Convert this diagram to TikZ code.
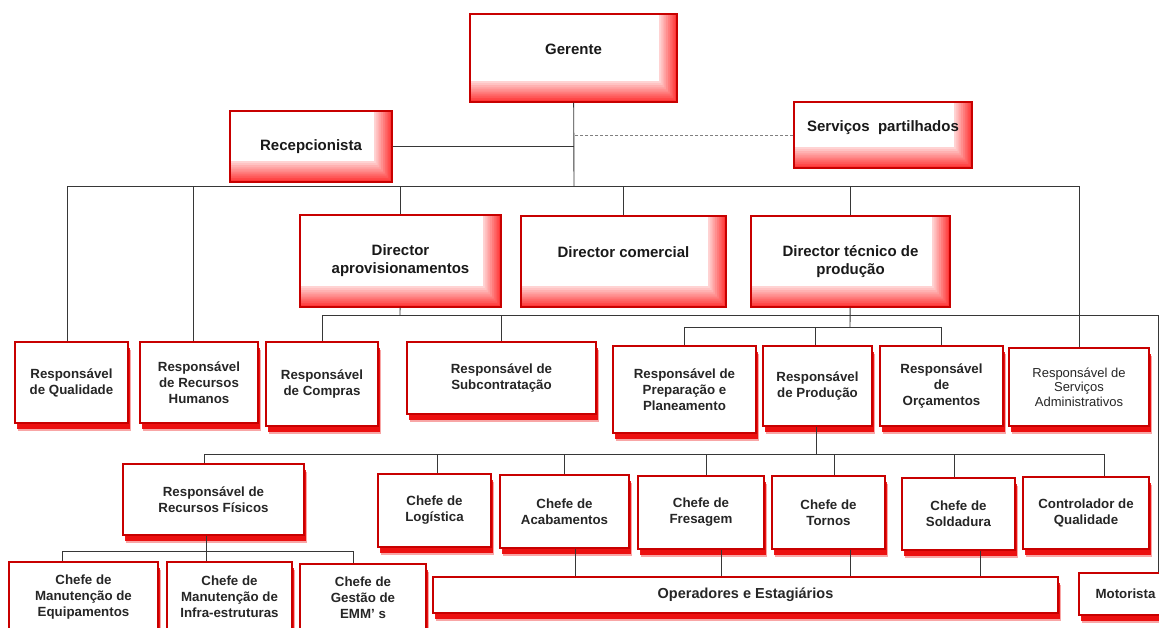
\documentclass[tikz,border=0pt]{standalone}
\usepackage{fontspec}
\setmainfont{Liberation Sans}
\usetikzlibrary{shadows}

\definecolor{boxred}{RGB}{200,0,0}
\definecolor{edgered}{RGB}{255,55,55}
\definecolor{shadowred}{RGB}{235,0,0}
\definecolor{linegray}{RGB}{55,55,55}

\newcommand{\topfont}{\fontsize{15}{18}\selectfont\bfseries}
\newcommand{\boxfont}{\fontsize{13.3}{16}\selectfont\bfseries}
\newcommand{\smallboxfont}{\fontsize{13}{14.5}\selectfont}

\begin{document}
\begin{tikzpicture}[x=1pt, y=-1pt,
    topbox/.style={draw=boxred, line width=1.4pt, fill=white, align=center,
        inner sep=0pt, font=\topfont, text=black!90,
        path picture={
            % degradê à direita e em baixo, em faixas
            \foreach \k [evaluate=\k as \pct using int(22+78*\k/9),
                         evaluate=\k as \w using 18-1.8*\k,
                         evaluate=\k as \h using 21-2.1*\k] in {0,...,9}
                \fill[edgered!\pct]
                    ([xshift=-\w pt]path picture bounding box.north east)
                    -- (path picture bounding box.north east)
                    -- (path picture bounding box.south east)
                    -- (path picture bounding box.south west)
                    -- ([yshift=\h pt]path picture bounding box.south west)
                    -- ([xshift=-\w pt, yshift=\h pt]path picture bounding box.south east) -- cycle;
        }},
    lowbox/.style={draw=boxred, line width=1.6pt, fill=white, align=center,
        inner sep=0pt, font=\boxfont, text=black!85,
        drop shadow={shadow xshift=3pt, shadow yshift=-7.5pt, fill=shadowred, opacity=0.35},
        drop shadow={shadow xshift=2pt, shadow yshift=-5.5pt, fill=shadowred, opacity=0.9}},
    conn/.style={draw=linegray, line width=0.9pt}]
    \useasboundingbox (0,0) rectangle (1159,627);

    % Direcção e apoio
    \node[topbox, minimum width=207pt, minimum height=88pt] (ger) at (573.5,58) {Gerente\\~};
    \node[topbox, minimum width=162pt, minimum height=71pt] (rec) at (311,146.5) {Recepcionista};
    \node[topbox, minimum width=178pt, minimum height=66pt] (serv) at (883,135) {Serviços\ \ partilhados\\~};

    % Directores
    \node[topbox, minimum width=201pt, minimum height=92pt] (dap) at (400.5,261) {Director\\aprovisionamentos};
    \node[topbox, minimum width=205pt, minimum height=91pt] (dco) at (623.5,261.5) {Director comercial\\~};
    \node[topbox, minimum width=199pt, minimum height=91pt] (dte) at (850.5,261.5) {Director técnico de\\produção};

    % Responsáveis
    \node[lowbox, minimum width=113pt, minimum height=81pt] (rq) at (71.5,382.5) {Responsável\\de Qualidade};
    \node[lowbox, minimum width=118pt, minimum height=81pt] (rrh) at (199,382.5) {Responsável\\de Recursos\\Humanos};
    \node[lowbox, minimum width=112pt, minimum height=84pt] (rco) at (322,384) {Responsável\\de Compras};
    \node[lowbox, minimum width=189pt, minimum height=72pt] (rsu) at (501.5,378) {Responsável de\\Subcontratação};
    \node[lowbox, minimum width=143pt, minimum height=87pt] (rpp) at (684.5,389.5) {Responsável de\\Preparação e\\Planeamento};
    \node[lowbox, minimum width=109pt, minimum height=80pt] (rpr) at (817.5,386) {Responsável\\de Produção};
    \node[lowbox, minimum width=123pt, minimum height=80pt] (ror) at (941.5,386) {Responsável\\de\\Orçamentos};
    \node[lowbox, minimum width=140pt, minimum height=78pt, font=\smallboxfont] (rsa) at (1079,387) {Responsável de\\Serviços\\Administrativos};

    % Chefias
    \node[lowbox, minimum width=181pt, minimum height=71pt] (rrf) at (213.5,499.5) {Responsável de\\Recursos Físicos};
    \node[lowbox, minimum width=113pt, minimum height=73pt] (clo) at (434.5,510.5) {Chefe de\\Logística};
    \node[lowbox, minimum width=129pt, minimum height=73pt] (cac) at (564.5,511.5) {Chefe de\\Acabamentos};
    \node[lowbox, minimum width=126pt, minimum height=73pt] (cfr) at (701,512.5) {Chefe de\\Fresagem};
    \node[lowbox, minimum width=113pt, minimum height=73pt] (cto) at (828.5,512.5) {Chefe de\\Tornos};
    \node[lowbox, minimum width=113pt, minimum height=72pt] (cso) at (958.5,514) {Chefe de\\Soldadura};
    \node[lowbox, minimum width=126pt, minimum height=72pt] (cqu) at (1086,513) {Controlador de\\Qualidade};

    % Base
    \node[lowbox, minimum width=149pt, minimum height=70pt] (cme) at (83.5,597) {Chefe de\\Manutenção de\\Equipamentos};
    \node[lowbox, minimum width=125pt, minimum height=70pt] (cmi) at (229.5,597) {Chefe de\\Manutenção de\\Infra-estruturas};
    \node[lowbox, minimum width=126pt, minimum height=68pt] (cge) at (363,598) {Chefe de\\Gestão de\\EMM’ s};
    \node[lowbox, minimum width=625pt, minimum height=36pt, font=\fontsize{14.5}{16}\selectfont\bfseries] (ope) at (745.5,595) {Operadores e Estagiários};
    \node[lowbox, minimum width=93pt, minimum height=42pt] (mot) at (1125.5,594) {Motorista};

    % Ligações
    \coordinate (b1) at (574,186);
    \coordinate (b2) at (400,315);
    \coordinate (m1) at (1158,315);
    \coordinate (b3) at (850,327);
    \coordinate (b4) at (816,454);
    \coordinate (b5) at (206,551);

    \draw[conn] (ger) -- (b1);
    \draw[conn] (rec) -- (rec -| b1);
    \draw[conn, densely dashed, draw=gray] (serv) -- (serv -| b1);
    \draw[conn] (b1) -| ([xshift=-4.5pt]rq.north);
    \draw[conn] (b1) -| ([xshift=-6pt]rrh.north);
    \draw[conn] (b1) -| (dap);
    \draw[conn] (b1) -| (dco);
    \draw[conn] (b1) -| (dte);
    \draw[conn] (b1) -| (rsa);

    \draw[conn] (dap) -- (b2);
    \draw[conn] (b2) -| (rco);
    \draw[conn] (b2) -| (rsu);
    \draw[conn] (b2) -- (m1) -- (m1 |- mot.north);

    \draw[conn] (dte) -- (b3);
    \draw[conn] (b3) -| (rpp);
    \draw[conn] (b3) -| ([xshift=-2.5pt]rpr.north);
    \draw[conn] (b3) -| (ror);

    \draw[conn] ([xshift=-1.5pt]rpr.south) -- (b4);
    \draw[conn] (b4) -| ([xshift=-9.5pt]rrf.north);
    \draw[conn] (b4) -| ([xshift=2.5pt]clo.north);
    \draw[conn] (b4) -| (cac);
    \draw[conn] (b4) -| ([xshift=5pt]cfr.north);
    \draw[conn] (b4) -| ([xshift=5.5pt]cto.north);
    \draw[conn] (b4) -| ([xshift=-4.5pt]cso.north);
    \draw[conn] (b4) -| ([xshift=18pt]cqu.north);

    \draw[conn] ([xshift=-7.5pt]rrf.south) -- (b5);
    \draw[conn] (b5) -| ([xshift=-21.5pt]cme.north);
    \draw[conn] (b5) -| ([xshift=-23.5pt]cmi.north);
    \draw[conn] (b5) -| ([xshift=-10pt]cge.north);

    \draw[conn] ([xshift=10.5pt]cac.south) -- ([xshift=10.5pt]cac.south |- ope.north);
    \draw[conn] ([xshift=20pt]cfr.south) -- ([xshift=20pt]cfr.south |- ope.north);
    \draw[conn] ([xshift=21.5pt]cto.south) -- ([xshift=21.5pt]cto.south |- ope.north);
    \draw[conn] ([xshift=21.5pt]cso.south) -- ([xshift=21.5pt]cso.south |- ope.north);
\end{tikzpicture}
\end{document}
